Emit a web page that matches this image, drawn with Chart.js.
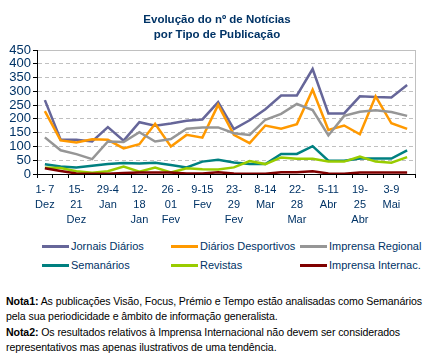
<!DOCTYPE html>
<html>
<head>
<meta charset="utf-8">
<script src="https://cdn.jsdelivr.net/npm/chart.js@4"></script>
<style>
  body { margin: 0; background: #fff; }
  #wrap { position: relative; width: 438px; height: 359px; overflow: hidden; font-family: 'Liberation Sans', Arial, sans-serif; }
  #chart { position: absolute; left: 0; top: 0; }
  #title { position: absolute; left: 0; top: 12px; width: 434px; text-align: center; color: #003366; font-weight: bold; font-size: 11.5px; line-height: 15px; }
  .lg-line { position: absolute; height: 3px; }
  .lg-text { position: absolute; color: #003366; font-size: 11px; line-height: 13px; white-space: nowrap; }
  #notes { position: absolute; left: 6px; top: 294px; color: #000; font-size: 10.6px; letter-spacing: -0.1px; line-height: 15.3px; white-space: nowrap; }
</style>
</head>
<body>
<div id="wrap">
  <canvas id="chart" width="438" height="240"></canvas>
  <div id="title">Evolução do nº de Notícias<br>por Tipo de Publicação</div>
  <div id="legend"></div>
  <div id="notes">
    <b>Nota1:</b> As publicações Visão, Focus, Prémio e Tempo estão analisadas como Semanários<br>
    pela sua periodicidade e âmbito de informação generalista.<br>
    <b>Nota2:</b> Os resultados relativos à Imprensa Internacional não devem ser considerados<br>
    representativos mas apenas ilustrativos de uma tendência.
  </div>
</div>
<script>
// semanas (dez 2003 - mai 2004)
const categories = [
  '1-7 Dez', '8-14 Dez', '15-21 Dez', '22-28 Dez', '29-4 Jan', '5-11 Jan',
  '12-18 Jan', '19-25 Jan', '26-01 Fev', '2-8 Fev', '9-15 Fev', '16-22 Fev',
  '23-29 Fev', '1-7 Mar', '8-14 Mar', '15-21 Mar', '22-28 Mar', '29-4 Abr',
  '5-11 Abr', '12-18 Abr', '19-25 Abr', '26-2 Mai', '3-9 Mai', '10-16 Mai'
];
// only every other week gets a label on the axis
const tickLabels = [
  ['1- 7', 'Dez'], null, ['15-', '21', 'Dez'], null, ['29-4', 'Jan'], null,
  ['12-', '18', 'Jan'], null, ['26 -', '01', 'Fev'], null, ['9-15', 'Fev'], null,
  ['23-', '29', 'Fev'], null, ['8-14', 'Mar'], null, ['22-', '28', 'Mar'], null,
  ['5-11', 'Abr'], null, ['19-', '25', 'Abr'], null, ['3-9', 'Mai'], null
];
const yTicks = [0, 50, 100, 150, 200, 250, 300, 350, 400, 450];

const jornaisDiarios     = [268, 124, 124, 118, 170, 121, 188, 175, 183, 193, 198, 261, 163, 195, 235, 285, 285, 381, 220, 220, 282, 279, 278, 323];
const diariosDesportivos = [228, 122, 114, 126, 124, 93, 108, 182, 100, 142, 132, 251, 142, 112, 176, 164, 181, 306, 160, 176, 144, 282, 184, 164];
const imprensaRegional   = [133, 86, 72, 54, 118, 116, 152, 118, 127, 164, 169, 169, 148, 142, 197, 218, 254, 232, 140, 211, 226, 231, 225, 211];
const semanarios         = [35, 27, 24, 30, 36, 40, 38, 41, 33, 24, 45, 52, 42, 36, 36, 73, 73, 101, 48, 48, 56, 56, 56, 86];
const revistas           = [23, 22, 10, 5, 10, 27, 8, 23, 6, 21, 17, 16, 24, 47, 36, 60, 55, 55, 45, 45, 63, 45, 41, 61];
const imprensaInternac   = [21, 11, 2, 1, 1, 4, 5, 5, 5, 2, 2, 6, 2, 1, 1, 6, 6, 10, 2, 1, 5, 5, 5, 5];

const series = [
  { label: 'Jornais Diários', data: jornaisDiarios, color: '#666699' },
  { label: 'Diários Desportivos', data: diariosDesportivos, color: '#FF9900' },
  { label: 'Imprensa Regional', data: imprensaRegional, color: '#969696' },
  { label: 'Semanários', data: semanarios, color: '#008080' },
  { label: 'Revistas', data: revistas, color: '#99CC00' },
  { label: 'Imprensa Internac.', data: imprensaInternac, color: '#800000' }
];

const navy = '#003366';
const fontFamily = "'Liberation Sans', Arial, sans-serif";

// gray frame on the right side of the plot
const rightFrame = {
  id: 'rightFrame',
  beforeDatasetsDraw(chart) {
    const { ctx, chartArea } = chart;
    ctx.save();
    ctx.strokeStyle = '#c0c0c0';
    ctx.lineWidth = 1;
    ctx.beginPath();
    ctx.moveTo(chartArea.right + 0.5, chartArea.top);
    ctx.lineTo(chartArea.right + 0.5, chartArea.bottom);
    ctx.stroke();
    ctx.restore();
  }
};

new Chart(document.getElementById('chart'), {
  type: 'line',
  data: {
    labels: categories,
    datasets: series.map((s, i) => ({
      label: s.label,
      data: s.data,
      borderColor: s.color,
      backgroundColor: s.color,
      borderWidth: 2.5,
      pointRadius: 0,
      tension: 0,
      fill: false,
      order: series.length - i
    }))
  },
  options: {
    responsive: false,
    animation: false,
    layout: { padding: { top: 50, right: 23, left: 0, bottom: 0 } },
    plugins: {
      legend: { display: false },
      title: { display: false },
      tooltip: { enabled: false }
    },
    scales: {
      x: {
        offset: true,
        afterFit: (scale) => { scale.height = 66; },
        grid: { offset: true, drawOnChartArea: false, drawTicks: true, tickLength: 4, color: '#000', tickColor: '#000' },
        border: { color: '#000', width: 1 },
        ticks: {
          autoSkip: false,
          maxRotation: 0,
          minRotation: 0,
          padding: 4,
          color: navy,
          font: { family: fontFamily, size: 11, lineHeight: '15px' },
          callback: (value, index) => tickLabels[index] || ''
        }
      },
      y: {
        min: 0,
        max: 450,
        afterFit: (scale) => { scale.width = 37; },
        afterBuildTicks: (scale) => { scale.ticks = yTicks.map(v => ({ value: v })); },
        grid: {
          color: (ctx) => (ctx.tick && ctx.tick.value === 0) ? 'rgba(0,0,0,0)' : '#c0c0c0',
          tickColor: '#000',
          tickLength: 4,
          lineWidth: 1
        },
        border: {
          color: '#000',
          width: 1,
          dash: (ctx) => (ctx.tick && ctx.tick.value === 450) ? [] : [4, 3]
        },
        ticks: {
          autoSkip: false,
          padding: 2,
          color: navy,
          font: { family: fontFamily, size: 13 }
        }
      }
    }
  },
  plugins: [rightFrame]
});

// legend, three columns by two rows
const legendCols = [{ line: 42, text: 71 }, { line: 171, text: 200 }, { line: 300, text: 329 }];
const legendRows = [246, 265];
const legendEl = document.getElementById('legend');
series.forEach((s, i) => {
  const col = legendCols[i % 3];
  const y = legendRows[Math.floor(i / 3)];
  const line = document.createElement('div');
  line.className = 'lg-line';
  line.style.left = col.line + 'px';
  line.style.width = (col.text - col.line - 2) + 'px';
  line.style.top = (y - 1.5) + 'px';
  line.style.background = s.color;
  const txt = document.createElement('div');
  txt.className = 'lg-text';
  txt.style.left = col.text + 'px';
  txt.style.top = (y - 6.5) + 'px';
  txt.textContent = s.label;
  legendEl.appendChild(line);
  legendEl.appendChild(txt);
});
</script>
</body>
</html>
